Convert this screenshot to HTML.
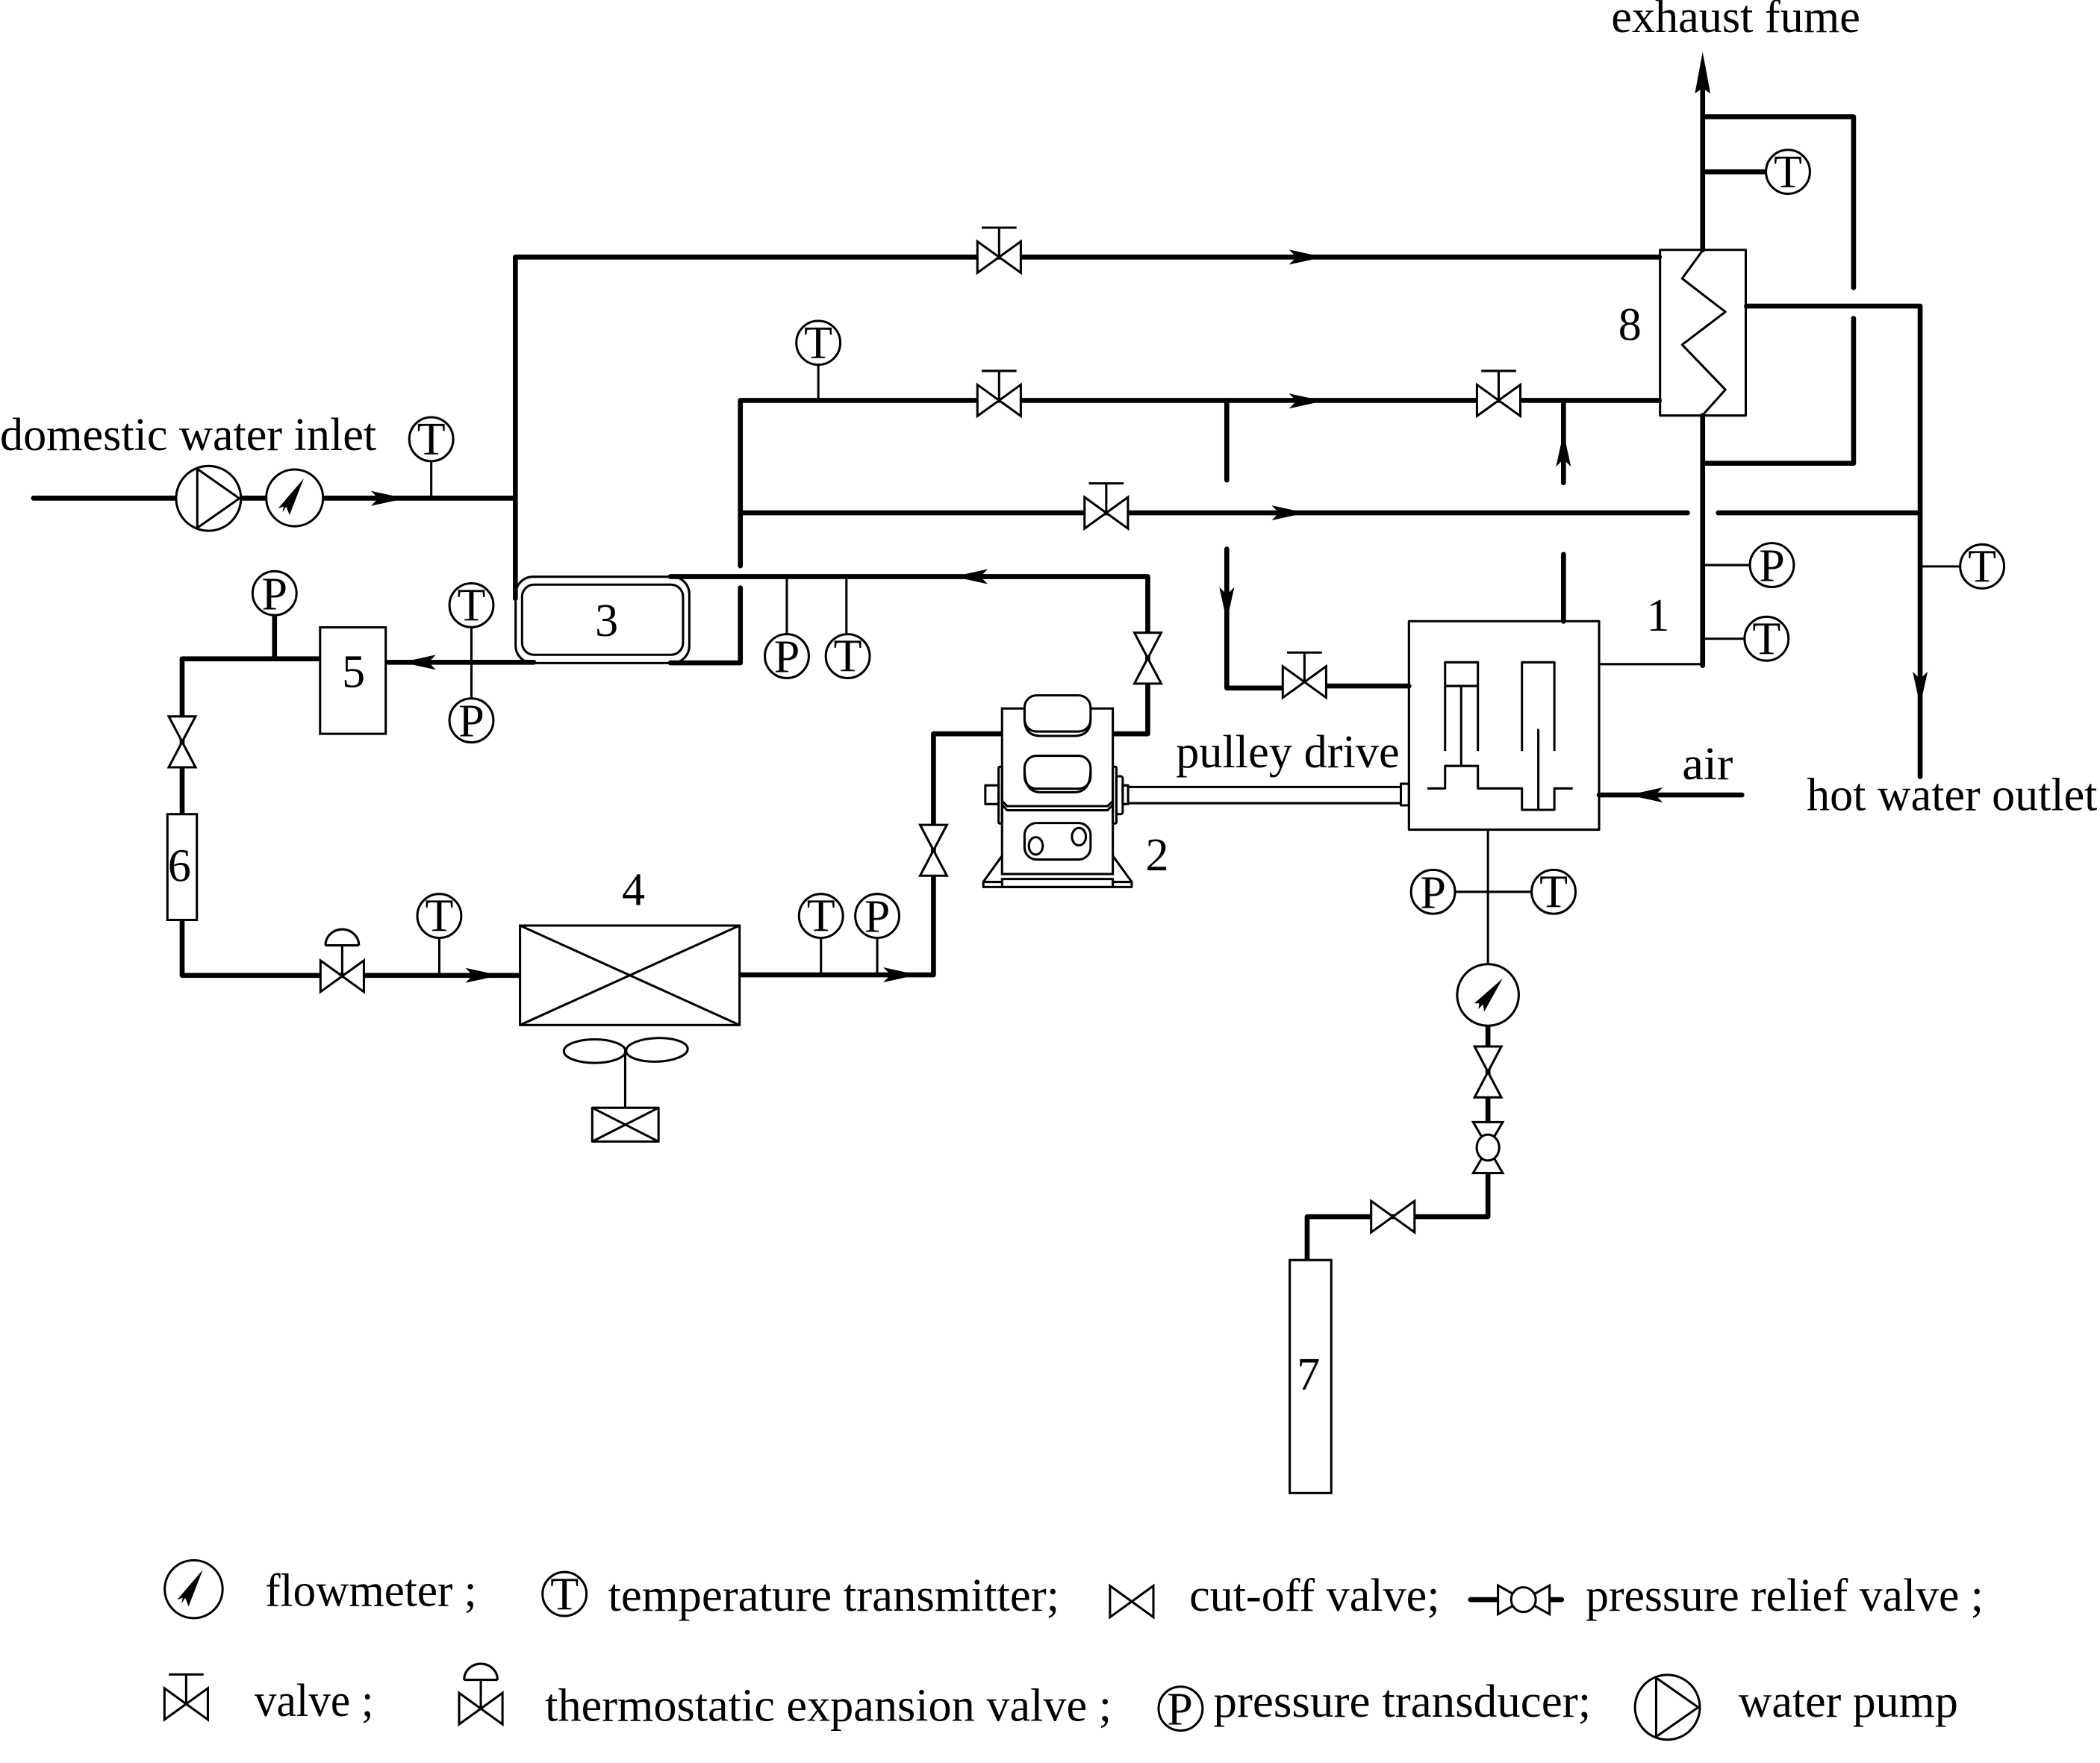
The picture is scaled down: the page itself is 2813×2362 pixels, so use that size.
<!DOCTYPE html>
<html><head><meta charset="utf-8"><style>
html,body{margin:0;padding:0;background:#fff}
svg{display:block}
text{font-family:"Liberation Serif",serif;font-size:34.6px;fill:#000}
.c{text-anchor:middle}
.k{fill:none;stroke:#000;stroke-width:3.7;stroke-linecap:round;stroke-linejoin:round}
.n{fill:none;stroke:#000;stroke-width:1.7;stroke-linejoin:round}
.w{fill:#fff;stroke:#000;stroke-width:1.7;stroke-linejoin:miter}
</style></head><body>
<svg xmlns="http://www.w3.org/2000/svg" width="2813" height="2362" viewBox="0 0 1568 1316.6">
<defs>
<polygon id="ar" points="0,0 -25.5,-5.6 -20,0 -25.5,5.6" fill="#000"/>
<polygon id="ar2" points="0,0 -31,-5.8 -27,0 -31,5.8" fill="#000"/>
<path id="vh" class="w" d="M-16.2,-11.7L16.2,11.7V-11.7L-16.2,11.7Z"/>
<path id="vv" class="w" d="M-10,-19H10L-10,19H10Z"/>
<g id="vs"><path class="n" d="M0,0V-22M-13,-22H13"/><use href="#vh"/></g>
<path id="nd" d="M6.8,-14.4L-3.8,12.8L-6.3,6.5L-9.1,10.8L-8.2,6.5L-12.3,7.8Z" fill="#000"/>
<circle id="ci" r="16.4" class="w"/>
<g id="pu"><circle r="24.2" class="w"/><path class="n" d="M-8.4,-22V22L23,0Z"/></g>
</defs>

<!-- thick piping -->
<path class="k" d="M25,372H384.8M384.8,446.9V192H1239"/>
<path class="k" d="M552.8,422.6V299H1239"/>
<path class="k" d="M552.8,439V495H500.6M398.6,494.6H290"/>
<path class="k" d="M553,383H1260M1283,383H1433.7"/>
<path class="k" d="M500.6,430.6H857V548H830.9"/>
<path class="k" d="M916,358.5V299M916,410V513.8H958M990,512.3H1052"/>
<path class="k" d="M1167.4,360.5V299M1167.4,414V464"/>
<path class="k" d="M1271.3,186.6V60M1271.3,87.2H1384V214.8M1271.3,128.3H1318"/>
<path class="k" d="M1384,237.8V346H1271.3M1271.3,310.3V497"/>
<path class="k" d="M1304,228.6H1433.7V580"/>
<path class="k" d="M1300.6,593.7H1194"/>
<path class="k" d="M748.2,548H697V728H552.2"/>
<path class="k" d="M388.3,728.4H136V492H239M205,460V492"/>
<path class="k" d="M1111,766V838M1111,876V908.6H976V941"/>

<!-- thin connectors -->
<path class="n" d="M322,344V372M611,272V299M1271,496H1194M1271,422H1307M1271,477H1303M1433.7,423H1464"/>
<path class="n" d="M352,468V522M587.5,431V474M632,431V474"/>
<path class="n" d="M1111,620V722M1086,666H1144"/>

<!-- arrowheads -->
<use href="#ar2" transform="translate(1271.3,38.8) rotate(-90)"/>
<use href="#ar" transform="translate(302.5,372.2)"/>
<use href="#ar" transform="translate(988,192)"/>
<use href="#ar" transform="translate(988,299.5)"/>
<use href="#ar" transform="translate(975,383)"/>
<use href="#ar" transform="translate(712,430.6) rotate(180)"/>
<use href="#ar" transform="translate(300,494.6) rotate(180)"/>
<use href="#ar" transform="translate(373,728.4)"/>
<use href="#ar" transform="translate(685,728)"/>
<use href="#ar" transform="translate(916,464) rotate(90)"/>
<use href="#ar" transform="translate(1167.4,323) rotate(-90)"/>
<use href="#ar" transform="translate(1433.7,527) rotate(90)"/>
<use href="#ar" transform="translate(1216,593.7) rotate(180)"/>

<!-- box 8 -->
<rect x="1239.5" y="186.6" width="64" height="123.7" class="n"/>
<path class="n" d="M1271.3,187L1256,208L1288.3,232.9L1256,257.4L1288.3,291L1271.3,310"/>
<!-- box 3 -->
<rect x="385" y="430.7" width="129.7" height="64.5" rx="13" class="n"/>
<rect x="389.8" y="436.6" width="120.2" height="52.4" rx="9" class="n"/>
<!-- box 5, 6, 7 -->
<rect x="239" y="468.5" width="49" height="79.5" class="w"/>
<rect x="125" y="608" width="22" height="79" class="w"/>
<rect x="963" y="941" width="31" height="174" class="w"/>
<!-- condenser -->
<rect x="388.3" y="691.2" width="163.9" height="74.3" class="w"/>
<path class="n" d="M388.3,691.2L552.2,765.5M552.2,691.2L388.3,765.5"/>
<ellipse cx="444" cy="785" rx="23" ry="8.8" class="n"/>
<ellipse cx="490.5" cy="784" rx="23" ry="8.8" class="n" transform="rotate(-2 490.5 784)"/>
<path class="n" d="M466.8,784V827"/>
<rect x="442.2" y="827.3" width="49.5" height="25.2" class="n"/>
<path class="n" d="M442.2,827.3L491.7,852.5M491.7,827.3L442.2,852.5"/>

<!-- compressor -->
<path class="n" d="M748.2,639.1L734.2,658.6V662.4H845V658.6L830.9,639.1M734.2,658.6H748.2M830.9,658.6H845"/>
<rect x="748.2" y="656.4" width="82.7" height="6" class="n"/>
<rect x="748.2" y="529.1" width="82.7" height="123.6" class="w"/>
<rect x="765" y="519.3" width="49.3" height="27" rx="9" class="w"/>
<path class="n" d="M765,537Q765,549.6 777,549.6H802Q814.3,549.6 814.3,537"/>
<rect x="765" y="564.4" width="49.3" height="24.6" rx="9" class="w"/>
<path class="n" d="M765,575Q765,591.7 777,591.7H802Q814.3,591.7 814.3,575"/>
<path class="n" d="M748.2,598.2L752,602H827L830.9,598.2M748.2,601L752,605.1H827L830.9,601"/>
<rect x="765" y="614.6" width="49.3" height="27.3" rx="9" class="n"/>
<ellipse cx="773.4" cy="631.7" rx="5.2" ry="6.5" class="n"/>
<ellipse cx="805.6" cy="624.8" rx="5.2" ry="6.5" class="n"/>
<rect x="745.6" y="572.6" width="2.6" height="42.4" rx="1" class="n"/>
<rect x="735.7" y="586.5" width="9.9" height="14" class="n"/>
<rect x="830.9" y="572.6" width="2.7" height="42.4" rx="1" class="n"/>
<rect x="833.6" y="579.7" width="4.7" height="28.3" rx="1.5" class="n"/>
<rect x="838.3" y="586.5" width="4" height="14" class="n"/>
<path class="n" d="M842.3,587.7H1046M842.3,599.8H1046"/>
<rect x="1046" y="585.3" width="6" height="16.1" class="n"/>

<!-- engine box 1 -->
<rect x="1052" y="463.9" width="142" height="155.7" class="n"/>
<path class="n" d="M1079,560.8V494.6H1103.5V560.8M1079,512.3H1103.5M1091,512.3V572"/>
<path class="n" d="M1065.8,588.8H1079V572H1103.5V588.8H1136.4V604.8H1160.6V588.8H1174.3"/>
<path class="n" d="M1136.4,560.8V494.6H1160.6V560.8M1148.6,544.4V604.8"/>

<!-- valves -->
<use href="#vs" transform="translate(746,192)"/>
<use href="#vs" transform="translate(746,299)"/>
<use href="#vs" transform="translate(1119,299)"/>
<use href="#vs" transform="translate(826,383)"/>
<use href="#vs" transform="translate(974,509.3)"/>
<use href="#vv" transform="translate(857,491.5)"/>
<use href="#vv" transform="translate(697,635)"/>
<use href="#vv" transform="translate(136,554)"/>
<use href="#vv" transform="translate(1111,800.5)"/>
<use href="#vh" transform="translate(1040,908.6)"/>
<!-- expansion valve -->
<path class="n" d="M255.5,706V729M243,706H268M243,706A12.5,12 0 0 1 268,706"/>
<use href="#vh" transform="translate(255.5,729)"/>
<!-- relief valve -->
<path class="w" d="M1100,838H1122L1100,876H1122Z"/>
<ellipse cx="1111" cy="857" rx="8.4" ry="9.7" class="w"/>

<!-- instruments -->
<use href="#pu" transform="translate(155.7,372.2)"/>
<circle cx="220" cy="371.8" r="21.2" class="w"/><use href="#nd" transform="translate(220,371.8)"/>
<circle cx="1111" cy="743" r="23" class="w"/>
<path d="M11,-12.3L-2.8,12.5L-3.7,6.9L-7.1,10.6L-6.5,6.3L-10.2,6.3Z" fill="#000" transform="translate(1111,743)"/>
<use href="#ci" transform="translate(322,328)"/><text x="322" y="339.5" class="c">T</text>
<use href="#ci" transform="translate(611,256)"/><text x="611" y="267.5" class="c">T</text>
<use href="#ci" transform="translate(1335,128.3)"/><text x="1335" y="140" class="c">T</text>
<use href="#ci" transform="translate(205,443)"/><text x="205" y="455" class="c">P</text>
<use href="#ci" transform="translate(352,452)"/><text x="352" y="463.5" class="c">T</text>
<use href="#ci" transform="translate(352,538)"/><text x="352" y="550" class="c">P</text>
<use href="#ci" transform="translate(587.5,490)"/><text x="587.5" y="502" class="c">P</text>
<use href="#ci" transform="translate(633,490)"/><text x="633" y="501.5" class="c">T</text>
<use href="#ci" transform="translate(328,684)"/><text x="328" y="695.5" class="c">T</text>
<use href="#ci" transform="translate(613,684)"/><text x="613" y="695.5" class="c">T</text>
<use href="#ci" transform="translate(655,684)"/><text x="655" y="696" class="c">P</text>
<path class="n" d="M328,700V728M613,700V728M655,700V728"/>
<use href="#ci" transform="translate(1323,422)"/><text x="1323" y="434" class="c">P</text>
<use href="#ci" transform="translate(1319,477)"/><text x="1319" y="488.5" class="c">T</text>
<use href="#ci" transform="translate(1480,423)"/><text x="1480" y="434.5" class="c">T</text>
<use href="#ci" transform="translate(1070,666)"/><text x="1070" y="678" class="c">P</text>
<use href="#ci" transform="translate(1160,666)"/><text x="1160" y="677.5" class="c">T</text>

<!-- labels -->
<text x="1203" y="24" textLength="186" lengthAdjust="spacingAndGlyphs">exhaust fume</text>
<text x="0" y="336" textLength="281" lengthAdjust="spacingAndGlyphs">domestic water inlet</text>
<text x="878" y="573" textLength="167" lengthAdjust="spacingAndGlyphs">pulley drive</text>
<text x="1256" y="582" textLength="38" lengthAdjust="spacingAndGlyphs">air</text>
<text x="1349" y="605" textLength="217" lengthAdjust="spacingAndGlyphs">hot water outlet</text>
<text x="1217" y="254" class="c">8</text>
<text x="453" y="475" class="c">3</text>
<text x="264" y="513" class="c">5</text>
<text x="134" y="658" class="c">6</text>
<text x="473" y="676" class="c">4</text>
<text x="864" y="650" class="c">2</text>
<text x="1238" y="471" class="c">1</text>
<text x="977" y="1038" class="c">7</text>

<!-- legend -->
<circle cx="144.6" cy="1186.8" r="21.6" class="w"/><use href="#nd" transform="translate(144.6,1186.8)"/>
<text x="198" y="1199.4" textLength="158" lengthAdjust="spacingAndGlyphs">flowmeter ;</text>
<use href="#ci" transform="translate(421.5,1190.4)"/><text x="421.5" y="1202" class="c">T</text>
<text x="454" y="1203" textLength="337" lengthAdjust="spacingAndGlyphs">temperature transmitter;</text>
<use href="#vh" transform="translate(845,1196)"/>
<text x="888" y="1203" textLength="187" lengthAdjust="spacingAndGlyphs">cut-off valve;</text>
<path class="k" d="M1098,1194.6H1166"/>
<path class="w" d="M1118.5,1184V1205.5L1157,1184V1205.5Z"/>
<circle cx="1137.5" cy="1194.6" r="9.2" class="w"/>
<text x="1184" y="1203" textLength="297" lengthAdjust="spacingAndGlyphs">pressure relief valve ;</text>
<use href="#vs" transform="translate(139,1272.5)"/>
<text x="190" y="1281.6" textLength="89" lengthAdjust="spacingAndGlyphs">valve ;</text>
<path class="n" d="M359,1254.5V1276M346.5,1254.5H371.5M346.5,1254.5A12.5,12 0 0 1 371.5,1254.5"/>
<use href="#vh" transform="translate(359,1276)"/>
<text x="407" y="1285" textLength="423" lengthAdjust="spacingAndGlyphs">thermostatic expansion valve ;</text>
<use href="#ci" transform="translate(881.5,1276)"/><text x="881" y="1288" class="c">P</text>
<text x="906" y="1282" textLength="282" lengthAdjust="spacingAndGlyphs">pressure transducer;</text>
<use href="#pu" transform="translate(1245,1275)"/>
<text x="1298" y="1282" textLength="164" lengthAdjust="spacingAndGlyphs">water pump</text>
</svg>
</body></html>
